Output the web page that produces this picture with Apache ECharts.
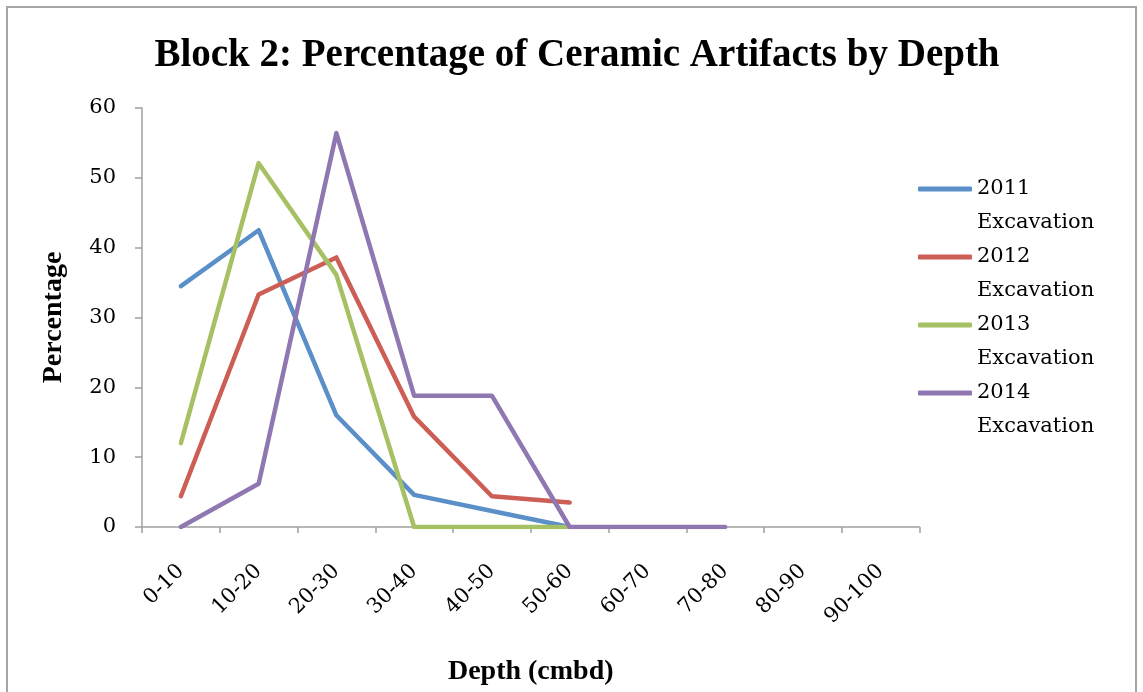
<!DOCTYPE html>
<html>
<head>
<meta charset="utf-8">
<script src="https://cdn.jsdelivr.net/npm/echarts@6/dist/echarts.min.js"></script>
<style>
  html, body { margin: 0; padding: 0; background: #fff; }
  #chart { width: 1143px; height: 692px; position: relative; }
  #frame { position: absolute; left: 6px; top: 6px; width: 1131px; height: 700px; border: 2px solid #a6a6a6; box-sizing: border-box; pointer-events: none; }
</style>
</head>
<body>
<div id="chart"></div>
<div id="frame"></div>
<script>
// Depth intervals (cm below datum)
const depthBins = ['0-10', '10-20', '20-30', '30-40', '40-50', '50-60', '60-70', '70-80', '80-90', '90-100'];

// Percentage of ceramic artifacts per depth interval, by excavation year
const exc2011 = [34.5, 42.5, 16.0, 4.6, 2.3, 0];
const exc2012 = [4.4, 33.3, 38.6, 15.8, 4.4, 3.5];
const exc2013 = [12.0, 52.1, 36.1, 0, 0, 0];
const exc2014 = [0, 6.2, 56.4, 18.8, 18.8, 0, 0, 0];

const seriesNames = ['2011 Excavation', '2012 Excavation', '2013 Excavation', '2014 Excavation'];
const seriesColors = ['#5a8fc8', '#cc5e56', '#a6c163', '#8f77b1'];
const yTicks = { min: 0, max: 60, interval: 10 };

const serif = '"DejaVu Serif", "Liberation Serif", serif';
const serifBold = '"Liberation Serif", "DejaVu Serif", serif';

const chart = echarts.init(document.getElementById('chart'), null, { renderer: 'canvas' });

const lineSeries = [exc2011, exc2012, exc2013, exc2014].map((values, i) => ({
  name: seriesNames[i],
  type: 'line',
  data: values,
  symbol: 'none',
  smooth: false,
  lineStyle: { width: 4.5, color: seriesColors[i], cap: 'round', join: 'round' },
  itemStyle: { color: seriesColors[i] },
  emphasis: { disabled: true }
}));

chart.setOption({
  animation: false,
  backgroundColor: '#ffffff',
  title: {
    text: 'Block 2: Percentage of Ceramic Artifacts by Depth',
    left: 572,
    textAlign: 'center',
    top: 31,
    textStyle: { fontFamily: serifBold, fontWeight: 'bold', fontSize: 39, color: '#000' }
  },
  legend: {
    orient: 'vertical',
    left: 918,
    top: 138,
    padding: 0,
    itemGap: -34,
    itemWidth: 54,
    itemHeight: 5,
    icon: 'roundRect',
    data: seriesNames,
    // leading blank line keeps the swatch level with the year line
    formatter: name => '\n' + name.replace(' ', '\n'),
    textStyle: {
      fontFamily: serif,
      fontSize: 21,
      color: '#000',
      lineHeight: 34
    }
  },
  grid: {
    left: 142,
    top: 108,
    right: 223.5,
    bottom: 165,
    containLabel: false
  },
  xAxis: {
    type: 'category',
    data: depthBins,
    boundaryGap: true,
    name: 'Depth (cmbd)',
    nameLocation: 'middle',
    nameGap: 131,
    nameTextStyle: { fontFamily: serifBold, fontWeight: 'bold', fontSize: 28, color: '#000' },
    axisLine: { lineStyle: { color: '#a0a0a0', width: 1.5 } },
    axisTick: { show: true, alignWithLabel: false, length: 6, lineStyle: { color: '#a0a0a0', width: 1.5 } },
    axisLabel: {
      rotate: 45,
      margin: 41,
      interval: 0,
      fontFamily: serif,
      fontSize: 21,
      color: '#000'
    },
    splitLine: { show: false }
  },
  yAxis: {
    type: 'value',
    min: yTicks.min,
    max: yTicks.max,
    interval: yTicks.interval,
    name: 'Percentage',
    nameLocation: 'middle',
    nameGap: 74,
    nameRotate: 90,
    nameTextStyle: { fontFamily: serifBold, fontWeight: 'bold', fontSize: 28, color: '#000' },
    axisLine: { show: true, lineStyle: { color: '#a0a0a0', width: 1.5 } },
    axisTick: { show: true, length: 7, lineStyle: { color: '#a0a0a0', width: 1.5 } },
    axisLabel: { margin: 26, fontFamily: serif, fontSize: 21, color: '#000' },
    splitLine: { show: false }
  },
  series: lineSeries
});
</script>
</body>
</html>
